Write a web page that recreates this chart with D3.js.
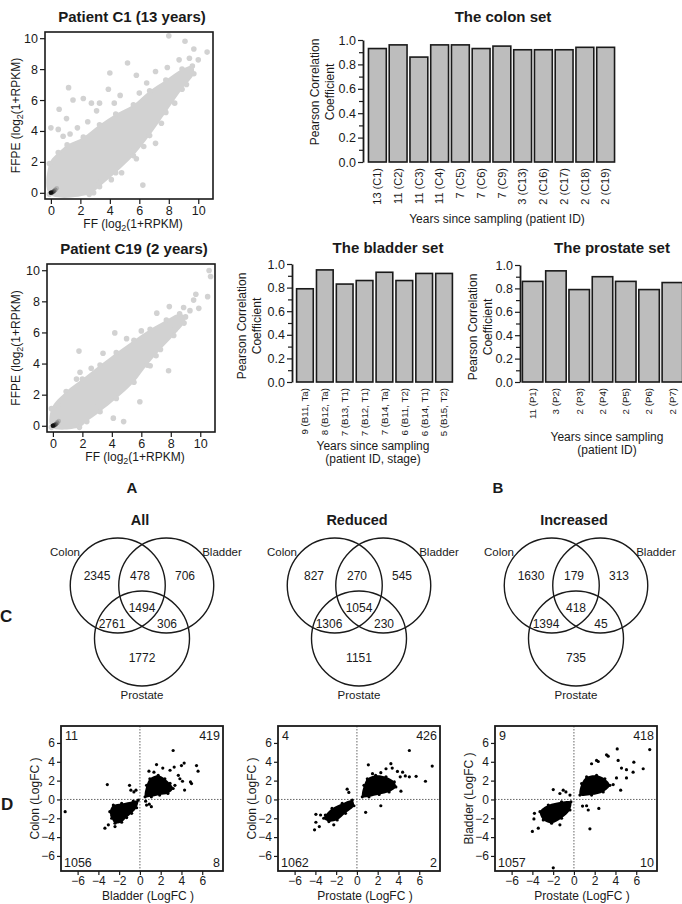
<!DOCTYPE html>
<html>
<head>
<meta charset="utf-8">
<script src="https://cdn.jsdelivr.net/npm/d3@7"></script>
<style>
body { margin: 0; background: #fff; }
svg { display: block; font-family: "Liberation Sans", Arial, sans-serif; }
</style>
</head>
<body>
<svg id="fig" width="682" height="904"></svg>
<script>
// ---- data ----
const colonLabels = ["13 (C1)", "11 (C2)", "11 (C3)", "11 (C4)", "7 (C5)", "7 (C6)", "7 (C9)", "3 (C13)", "2 (C16)", "2 (C17)", "2 (C18)", "2 (C19)"];
const colonR = [0.93, 0.96, 0.86, 0.96, 0.96, 0.93, 0.95, 0.92, 0.92, 0.92, 0.94, 0.94];
const bladderLabels = ["9 (B11, Ta)", "8 (B12, Ta)", "7 (B13, T1)", "7 (B12, T1)", "7 (B14, Ta)", "6 (B11, T2)", "6 (B14, T1)", "5 (B15, T2)"];
const bladderR = [0.79, 0.95, 0.83, 0.86, 0.93, 0.86, 0.92, 0.92];
const prostateLabels = ["11 (P1)", "3 (P2)", "2 (P3)", "2 (P4)", "2 (P5)", "2 (P6)", "2 (P7)"];
const prostateR = [0.86, 0.95, 0.79, 0.90, 0.86, 0.79, 0.85];
const corrTicks = [0, 0.2, 0.4, 0.6, 0.8, 1.0];
const corrMinor = [0.1, 0.3, 0.5, 0.7, 0.9];

// FF vs FFPE expression: dense cloud outline + single points
const ffTicks = [0, 2, 4, 6, 8, 10];
const c1Cloud = [[-0.1, -0.1], [-0.1, 1.9], [0.5, 2.6], [1.1, 3.1], [2.2, 3.6], [3.3, 4.4], [4.4, 5.1], [5.6, 5.7], [6.7, 6.6], [7.8, 7.3], [8.9, 8.0], [9.6, 8.2], [9.7, 7.7], [8.9, 6.7], [7.8, 5.2], [6.7, 3.7], [5.6, 2.4], [4.4, 1.3], [3.3, 0.4], [2.6, -0.1]];
const c1Points = [[8.0, 10.15], [9.1, 9.8], [9.7, 9.3], [10.6, 9.1], [8.7, 8.6], [7.9, 8.1], [7.1, 7.85], [5.2, 8.4], [4.0, 7.75], [5.8, 7.6], [6.5, 7.1], [6.0, 6.45], [1.2, 6.8], [3.9, 6.7], [4.7, 6.3], [1.5, 6.0], [2.2, 6.1], [2.75, 5.8], [3.3, 5.8], [4.3, 5.8], [3.1, 5.3], [0.56, 5.4], [1.06, 4.8], [0, 4.2], [0.5, 4.1], [0.83, 3.66], [1.3, 3.8], [1.8, 4.2], [2.5, 4.6], [6.24, 0.5], [2.9, 0.0], [3.3, 0.66], [4.1, 0.85], [4.8, 1.3], [7.1, 3.2], [5.8, 2.2], [5.3, 3.0], [6.3, 3.0], [7.5, 4.5], [8.4, 5.8], [9.2, 7.0], [10.0, 8.6], [9.4, 8.7]];
const c19Cloud = [[-0.1, -0.1], [-0.1, 1.1], [0.9, 2.2], [2.0, 3.0], [3.2, 3.9], [4.3, 4.7], [5.5, 5.5], [6.6, 6.2], [7.7, 6.8], [8.6, 7.2], [9.0, 7.0], [8.9, 6.6], [8.2, 5.8], [7.3, 4.9], [6.4, 3.9], [5.5, 2.8], [4.3, 1.75], [3.2, 0.9], [2.3, 0.27], [1.8, -0.1]];
const c19Points = [[10.6, 9.98], [10.7, 9.6], [10.5, 8.3], [9.7, 8.46], [9.55, 8.08], [9.9, 7.55], [8.87, 7.6], [7.9, 7.66], [7.05, 7.24], [4.2, 5.97], [1.77, 4.8], [3.4, 4.66], [1.84, 3.44], [1.6, 3.0], [0.93, 1.96], [0.36, 1.33], [7.85, 3.54], [6.6, 3.86], [5.9, 1.54], [4.8, 0.27], [4.1, 0.49], [2.6, 3.7], [5.0, 5.6], [6.0, 6.1], [8.3, 6.2], [9.3, 7.4], [3.0, 1.2], [7.0, 4.5]];
const originDots = [[0.4, 0.3], [0.3, 0.2], [0.2, 0.1], [0.1, 0.04], [0, 0]];

// Venn counts: colon only, colon&bladder, bladder only, all three, colon&prostate, bladder&prostate, prostate only
const vennTitles = ["All", "Reduced", "Increased"];
const allCounts = [2345, 478, 706, 1494, 2761, 306, 1772];
const reducedCounts = [827, 270, 545, 1054, 1306, 230, 1151];
const increasedCounts = [1630, 179, 313, 418, 1394, 45, 735];

// LogFC scatter panels
const fcTicks = [-6, -4, -2, 0, 2, 4, 6];
const d1Clouds = [
  [[0.5, 0.28], [0.64, 1.5], [0.96, 2.2], [1.76, 2.56], [2.4, 2.2], [2.9, 1.7], [3.2, 1.16], [2.7, 0.63], [1.9, 0.46], [1.1, 0.28]],
  [[-2.56, -0.6], [-1.76, -0.42], [-0.64, -0.18], [-0.16, -0.07], [-0.32, -0.88], [-0.8, -1.47], [-1.28, -1.93], [-1.76, -2.42], [-2.4, -2.53], [-2.72, -2.0], [-2.9, -1.3]]
];
const d1Points = [[3.2, 5.2], [1.6, 3.7], [2.2, 3.33], [0.87, 3.0], [1.35, 2.9], [2.9, 3.1], [4.26, 3.86], [4.0, 3.6], [3.3, 3.44], [3.7, 2.56], [3.85, 2.2], [4.1, 1.93], [4.87, 1.86], [4.97, 1.68], [4.3, 1.0], [5.45, 3.6], [5.6, 3.0], [3.37, 1.5], [2.56, 1.33], [0.64, -0.6], [1.1, -0.77], [0.9, -0.5], [0.55, -0.18], [-7.2, -1.3], [-3.14, 1.58], [-3.37, -3.05], [-3.04, -2.7], [-2.4, -2.88], [-1.0, 1.5], [-0.87, 0.98], [-0.58, 0.8], [-0.38, 0.98], [-2.7, -1.72]];
const d1Corners = [11, 419, 1056, 8];
const d2Clouds = [
  [[0.52, 0.28], [0.68, 1.5], [1.0, 2.2], [1.8, 2.56], [2.8, 2.4], [3.6, 1.86], [3.75, 1.33], [3.1, 0.8], [2.14, 0.53], [1.16, 0.28]],
  [[-3.04, -1.65], [-2.4, -0.95], [-1.42, -0.42], [-0.45, -0.07], [-0.29, -0.67], [-1.1, -1.47], [-1.9, -2.18], [-2.7, -2.35], [-3.2, -2.0]]
];
const d2Points = [[5.05, 5.2], [7.25, 3.54], [3.27, 3.8], [2.8, 3.26], [1.1, 3.68], [1.5, 2.74], [2.3, 2.84], [3.4, 3.33], [3.9, 2.98], [4.4, 2.9], [4.17, 2.4], [4.66, 2.5], [5.05, 2.4], [5.7, 2.46], [6.6, 1.93], [4.24, 0.88], [2.3, -0.67], [0.84, -1.37], [-0.94, 1.09], [-0.78, 0.74], [-4.08, -3.23], [-3.95, -2.42], [-3.62, -2.88], [-3.95, -1.58], [-3.5, -1.65], [-2.23, -2.7]];
const d2Corners = [4, 426, 1062, 2];
const d3Clouds = [
  [[0.58, 0.46], [0.74, 1.68], [1.22, 2.39], [2.18, 2.56], [2.98, 2.2], [3.46, 1.5], [2.82, 0.8], [1.7, 0.46]],
  [[-3.27, -1.3], [-2.47, -0.6], [-1.19, -0.25], [-0.29, -0.25], [-0.38, -1.12], [-1.19, -2.0], [-2.15, -2.53], [-2.95, -2.18]]
];
const d3Points = [[4.17, 5.37], [7.3, 5.3], [3.14, 4.74], [3.3, 4.6], [2.18, 4.14], [2.34, 4.03], [4.26, 4.14], [4.58, 3.33], [5.06, 3.16], [5.77, 3.96], [5.7, 2.9], [6.67, 3.26], [5.06, 2.28], [4.1, 2.28], [3.78, 1.58], [4.5, 0.98], [1.7, 3.79], [0.83, -0.7], [1.22, -0.67], [1.38, -1.12], [2.4, -0.95], [1.54, -3.12], [-1.99, 1.05], [-1.03, 0.98], [-0.77, 0.8], [-0.38, 0.46], [-1.35, 0.63], [-1.99, -7.26], [-4.0, -3.4], [-3.85, -2.07], [-3.43, -3.05], [-3.8, -1.47], [-1.35, -2.7]];
const d3Corners = [9, 418, 1057, 10];

// ---- drawing ----
const svg = d3.select("#fig");
const ink = "#1a1a1a";
const cloudGrey = "#d2d2d2";

function styleAxis(g, size) {
  g.attr("font-size", size).attr("font-family", null);
  g.selectAll("text").attr("fill", ink);
  g.selectAll("line").attr("stroke", ink).attr("stroke-width", 1.2);
}

function label(x, y, txt, size, opts) {
  opts = opts || {};
  return svg.append("text")
    .attr("x", x).attr("y", y)
    .attr("text-anchor", opts.anchor || "middle")
    .attr("font-size", size)
    .attr("font-weight", opts.bold ? "bold" : null)
    .attr("fill", ink)
    .text(txt);
}

function logLabel(parent, x, y, name, rotate) {
  const t = parent.append("text")
    .attr("text-anchor", "middle").attr("font-size", 12).attr("fill", ink)
    .attr("transform", "translate(" + x + "," + y + ")" + (rotate ? " rotate(-90)" : ""));
  t.append("tspan").text(name + " (log");
  t.append("tspan").attr("font-size", 9).attr("dy", 3).text("2");
  t.append("tspan").attr("dy", -3).text("(1+RPKM)");
}

// top-left scatter plots
let clipId = 0;
function ffScatter(box, title, cloud, pts) {
  const x = d3.scaleLinear().domain([-0.4, 11]).range([box.l, box.r]);
  const y = d3.scaleLinear().domain([-0.4, 10.4]).range([box.b, box.t]);
  const id = "clip" + (clipId++);
  svg.append("clipPath").attr("id", id).append("rect")
    .attr("x", box.l).attr("y", box.t).attr("width", box.r - box.l).attr("height", box.b - box.t);
  const g = svg.append("g").attr("clip-path", "url(#" + id + ")");
  g.append("path").datum(cloud)
    .attr("d", d3.line().x(d => x(d[0])).y(d => y(d[1])).curve(d3.curveCatmullRomClosed))
    .attr("fill", cloudGrey);
  g.selectAll("circle.p").data(cloud.concat(pts)).join("circle").attr("class", "p")
    .attr("cx", d => x(d[0])).attr("cy", d => y(d[1])).attr("r", 2.8).attr("fill", cloudGrey);
  const shade = d3.scaleLinear().domain([0, originDots.length - 1]).range(["#b5b5b5", "#111"]);
  g.selectAll("circle.o").data(originDots).join("circle").attr("class", "o")
    .attr("cx", d => x(d[0])).attr("cy", d => y(d[1])).attr("r", 2.3).attr("fill", (d, i) => shade(i));

  svg.append("rect").attr("x", box.l).attr("y", box.t)
    .attr("width", box.r - box.l).attr("height", box.b - box.t)
    .attr("fill", "none").attr("stroke", ink).attr("stroke-width", 1.6);
  svg.append("g").attr("transform", "translate(" + box.l + ",0)")
    .call(d3.axisLeft(y).tickValues(ffTicks).tickSize(5).tickPadding(2))
    .call(a => a.select(".domain").remove()).call(a => styleAxis(a, 12.5));
  svg.append("g").attr("transform", "translate(0," + box.b + ")")
    .call(d3.axisBottom(x).tickValues(ffTicks).tickSize(5).tickPadding(2))
    .call(a => a.select(".domain").remove()).call(a => styleAxis(a, 12.5));
  label((box.l + box.r) / 2 + 3, box.t - 10, title, 15, { bold: true });
  logLabel(svg, (box.l + box.r) / 2 + 4, box.b + 29, "FF", false);
  logLabel(svg, 20, (box.t + box.b) / 2, "FFPE", true);
}

ffScatter({ l: 45, r: 213, t: 32, b: 199 }, "Patient C1 (13 years)", c1Cloud, c1Points);
ffScatter({ l: 47, r: 215, t: 264, b: 432 }, "Patient C19 (2 years)", c19Cloud, c19Points);

// correlation bar charts
function barChart(o) {
  const x = d3.scaleBand().domain(o.labels).range([o.x0, o.x1]).paddingInner(o.pad).paddingOuter(o.pad / 2);
  const y = d3.scaleLinear().domain([0, 1]).range([o.yb, o.yt]);
  const g = svg.append("g");
  g.selectAll("rect").data(o.values).join("rect")
    .attr("x", (d, i) => x(o.labels[i])).attr("width", x.bandwidth())
    .attr("y", d => y(d)).attr("height", d => y(0) - y(d))
    .attr("fill", "#bdbdbd").attr("stroke", ink).attr("stroke-width", 1.6);
  svg.append("g").attr("transform", "translate(" + o.ax + ",0)")
    .call(d3.axisLeft(y).tickValues(corrMinor).tickSize(4).tickFormat(""))
    .call(a => a.select(".domain").remove()).call(a => styleAxis(a, 12));
  svg.append("g").attr("transform", "translate(" + o.ax + ",0)")
    .call(d3.axisLeft(y).tickValues(corrTicks).tickSize(5).tickPadding(2).tickFormat(d3.format(".1f")).tickSizeOuter(0))
    .call(a => styleAxis(a, 12.5))
    .call(a => a.select(".domain").attr("stroke", ink).attr("stroke-width", 1.8));
  g.selectAll("text.xl").data(o.labels).join("text").attr("class", "xl")
    .attr("transform", d => "translate(" + (x(d) + x.bandwidth() / 2) + "," + (o.yb + 6) + ") rotate(-90)")
    .attr("text-anchor", "end").attr("dy", "0.35em").attr("font-size", o.tickFont).attr("fill", ink)
    .text(d => d);
  label(o.tx, o.ty, o.title, 15, { bold: true });
  o.xlab.forEach((t, i) => label(o.xlx, o.xly + i * 13, t, 12));
  const yl = svg.append("text").attr("text-anchor", "middle").attr("font-size", 12).attr("fill", ink)
    .attr("transform", "translate(" + o.ylx + "," + o.yly + ") rotate(-90)");
  yl.append("tspan").attr("x", 0).attr("dy", 0).text("Pearson Correlation");
  yl.append("tspan").attr("x", 0).attr("dy", 14.5).text("Coefficient");
}

barChart({ labels: colonLabels, values: colonR, x0: 367, x1: 616, pad: 0.14, ax: 363, yt: 40, yb: 162,
  tickFont: 11, title: "The colon set", tx: 503, ty: 22, xlab: ["Years since sampling (patient ID)"], xlx: 497, xly: 223,
  ylx: 319, yly: 92 });
barChart({ labels: bladderLabels, values: bladderR, x0: 295, x1: 454, pad: 0.16, ax: 292, yt: 264, yb: 382,
  tickFont: 9.7, title: "The bladder set", tx: 388, ty: 253, xlab: ["Years since sampling", "(patient ID, stage)"], xlx: 373, xly: 450,
  ylx: 246, yly: 326 });
barChart({ labels: prostateLabels, values: prostateR, x0: 521, x1: 684, pad: 0.12, ax: 520, yt: 265, yb: 382,
  tickFont: 9.7, title: "The prostate set", tx: 612, ty: 253, xlab: ["Years since sampling", "(patient ID)"], xlx: 607, xly: 441,
  ylx: 477, yly: 327 });

label(132, 493, "A", 15, { bold: true });
label(498, 493, "B", 15, { bold: true });

// Venn diagrams
const vennCounts = [allCounts, reducedCounts, increasedCounts];
const vennCx = [142, 359, 576];
const vr = 47.5, vTop = 585.5;
const regionPos = [[-45, -10], [-2, -10], [43, -10], [0, 22], [-30, 38], [25, 38], [0, 72]];
vennTitles.forEach((t, k) => {
  const cx = vennCx[k];
  const g = svg.append("g");
  g.selectAll("circle").data([[cx - 24.25, vTop], [cx + 24.25, vTop], [cx, vTop + 53]]).join("circle")
    .attr("cx", d => d[0]).attr("cy", d => d[1]).attr("r", vr)
    .attr("fill", "none").attr("stroke", ink).attr("stroke-width", 1.4);
  g.selectAll("text").data(vennCounts[k]).join("text")
    .attr("x", (d, i) => cx + regionPos[i][0]).attr("y", (d, i) => vTop + regionPos[i][1])
    .attr("text-anchor", "middle").attr("dy", "0.35em").attr("font-size", 12).attr("fill", ink)
    .text(d => d);
  label(cx - 2, 525, t, 14.5, { bold: true });
  label(cx - 77, 556, "Colon", 11.5);
  label(cx + 80, 556, "Bladder", 11.5);
  label(cx, 699, "Prostate", 11.5);
});
label(0, 622, "C", 17, { bold: true, anchor: "start" });

// LogFC scatter panels
function fcPanel(left, clouds, pts, corners, xName, yName) {
  const box = { l: left, r: left + 162, t: 726, b: 871 };
  const x = d3.scaleLinear().domain([-7.6, 8]).range([box.l, box.r]);
  const y = d3.scaleLinear().domain([-7.6, 7.8]).range([box.b, box.t]);
  const g = svg.append("g");
  g.append("line").attr("x1", x(0)).attr("x2", x(0)).attr("y1", box.t).attr("y2", box.b)
    .attr("stroke", "#666").attr("stroke-dasharray", "1.5,1.5");
  g.append("line").attr("x1", box.l).attr("x2", box.r).attr("y1", y(0)).attr("y2", y(0))
    .attr("stroke", "#666").attr("stroke-dasharray", "1.5,1.5");
  g.selectAll("path").data(clouds).join("path")
    .attr("d", d3.line().x(d => x(d[0])).y(d => y(d[1])).curve(d3.curveCatmullRomClosed))
    .attr("fill", "#000");
  g.selectAll("circle").data(pts.concat(clouds[0], clouds[1])).join("circle")
    .attr("cx", d => x(d[0])).attr("cy", d => y(d[1])).attr("r", 1.6).attr("fill", "#000");
  svg.append("rect").attr("x", box.l).attr("y", box.t)
    .attr("width", box.r - box.l).attr("height", box.b - box.t)
    .attr("fill", "none").attr("stroke", ink).attr("stroke-width", 1.8);
  svg.append("g").attr("transform", "translate(" + box.l + ",0)")
    .call(d3.axisLeft(y).tickValues(fcTicks).tickSize(4).tickPadding(2))
    .call(a => a.select(".domain").remove()).call(a => styleAxis(a, 12));
  svg.append("g").attr("transform", "translate(0," + box.b + ")")
    .call(d3.axisBottom(x).tickValues(fcTicks).tickSize(4).tickPadding(1))
    .call(a => a.select(".domain").remove()).call(a => styleAxis(a, 12));
  label(box.l + 4, box.t + 14, corners[0], 12.5, { anchor: "start" });
  label(box.r - 3, box.t + 14, corners[1], 12.5, { anchor: "end" });
  label(box.l + 3, box.b - 4, corners[2], 12.5, { anchor: "start" });
  label(box.r - 3, box.b - 4, corners[3], 12.5, { anchor: "end" });
  label((box.l + box.r) / 2 + 6, 900, xName + " (LogFC )", 12);
  svg.append("text").attr("text-anchor", "middle").attr("font-size", 12).attr("fill", ink)
    .attr("transform", "translate(" + (box.l - 22) + "," + ((box.t + box.b) / 2) + ") rotate(-90)")
    .text(yName + " (LogFC )");
}

fcPanel(61, d1Clouds, d1Points, d1Corners, "Bladder", "Colon");
fcPanel(278, d2Clouds, d2Points, d2Corners, "Prostate", "Colon");
fcPanel(495, d3Clouds, d3Points, d3Corners, "Prostate", "Bladder");
label(1, 810, "D", 17, { bold: true, anchor: "start" });
</script>
</body>
</html>
